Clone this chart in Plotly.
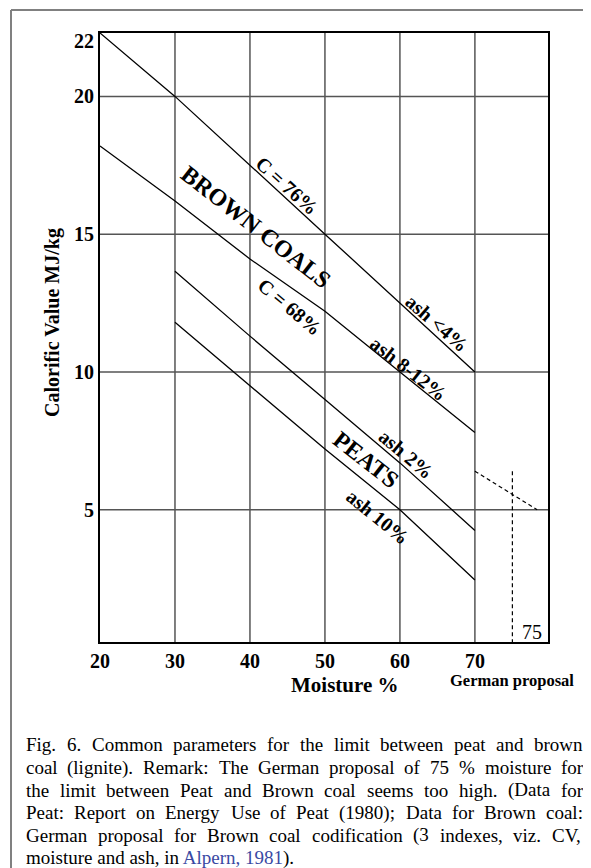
import plotly.graph_objects as go

# ---------------- data ----------------
moist_c76 = [20, 30, 50, 70]
cv_c76 = [22.3, 20.0, 15.0, 10.0]

moist_c68 = [20, 30, 40, 50, 60, 70]
cv_c68 = [18.2, 16.2, 14.1, 12.2, 10.0, 7.8]

moist_ash2 = [30, 40, 50, 60, 70]
cv_ash2 = [13.65, 11.3, 9.0, 6.7, 4.25]

moist_ash10 = [30, 40, 50, 60, 70]
cv_ash10 = [11.8, 9.5, 7.2, 5.0, 2.45]

moist_german_slope = [70, 78.3]
cv_german_slope = [6.4, 5.0]
moist_german_limit = [75, 75]
cv_german_limit = [6.4, 0.2]

x_ticks = [20, 30, 40, 50, 60, 70]
y_ticks = [5, 10, 15, 20, 22]
x_grid = [30, 40, 50, 60, 70]
y_grid = [5, 10, 15, 20]

labels = ["C = 76%", "BROWN COALS", "C = 68%", "ash &lt;4%", "ash 8-12%",
          "ash 2%", "PEATS", "ash 10%"]
label_moist = [45.0, 40.8, 45.35, 64.9, 61.2, 60.8, 55.5, 57.1]
label_cv = [16.75, 15.26, 12.37, 11.76, 10.1, 7.01, 6.8, 4.75]
label_angle = [42, 38, 40, 41, 38, 40, 38, 39]
label_size = [20, 24, 20, 20, 20, 20, 24, 20]

caption_lines = [
    "Fig. 6. Common parameters for the limit between peat and brown",
    "coal (lignite). Remark: The German proposal of 75 % moisture for",
    "the limit between Peat and Brown coal seems too high. (Data for",
    "Peat: Report on Energy Use of Peat (1980); Data for Brown coal:",
    "German proposal for Brown coal codification (3 indexes, viz. CV,",
]
caption_last = ("moisture and ash, in <span style='color:#3949a3'>Alpern, 1981</span>).")

# ---------------- layout geometry (page pixels; page body has an 8px margin) ----------------
OFF = 8
PAGE_W, PAGE_H = 591, 868
W, H = PAGE_W - OFF, PAGE_H - OFF
PL, PR, PT, PB = 100, 548, 33, 642          # plot area in page pixels
L, R, T, B = PL - OFF, PAGE_W - PR, PT - OFF, PAGE_H - PB
PW, PH = PR - PL, PB - PT


def px(x):
    return (x - PL) / PW


def py(y):
    return (PB - y) / PH


SERIF = "Liberation Serif, Times New Roman, serif"

fig = go.Figure()

line_style = dict(color="black", width=1.3)
for mx, cy in [(moist_c76, cv_c76), (moist_c68, cv_c68),
               (moist_ash2, cv_ash2), (moist_ash10, cv_ash10)]:
    fig.add_trace(go.Scatter(x=mx, y=cy, mode="lines", line=line_style,
                             hoverinfo="skip", showlegend=False))

dash_style = dict(color="black", width=1.2, dash="4px,3px")
fig.add_trace(go.Scatter(x=moist_german_slope, y=cv_german_slope, mode="lines",
                         line=dash_style, hoverinfo="skip", showlegend=False))
fig.add_trace(go.Scatter(x=moist_german_limit, y=cv_german_limit, mode="lines",
                         line=dash_style, hoverinfo="skip", showlegend=False))

shapes = []
for gx in x_grid:
    shapes.append(dict(type="line", xref="x", yref="paper", x0=gx, x1=gx, y0=0, y1=1,
                       line=dict(color="#555555", width=1.5), layer="below"))
for gy in y_grid:
    shapes.append(dict(type="line", xref="paper", yref="y", x0=0, x1=1, y0=gy, y1=gy,
                       line=dict(color="#555555", width=1.5), layer="below"))
# outer page frame (top and left)
shapes.append(dict(type="line", xref="paper", yref="paper", x0=px(11), x1=px(600),
                   y0=py(10), y1=py(10), line=dict(color="#808080", width=2)))
shapes.append(dict(type="line", xref="paper", yref="paper", x0=px(11), x1=px(11),
                   y0=py(10), y1=py(880), line=dict(color="#808080", width=2)))

annotations = []
for txt, mx, cy, ang, sz in zip(labels, label_moist, label_cv, label_angle, label_size):
    annotations.append(dict(x=mx, y=cy, xref="x", yref="y", text=f"<b>{txt}</b>",
                            textangle=ang, showarrow=False, xanchor="center", yanchor="middle",
                            font=dict(family=SERIF, size=sz, color="black")))

annotations.append(dict(x=77.6, y=0.55, xref="x", yref="y", text="75", showarrow=False,
                        xanchor="center", yanchor="middle",
                        font=dict(family=SERIF, size=20, color="black")))
annotations.append(dict(x=px(345), y=py(685), xref="paper", yref="paper",
                        text="<b>Moisture %</b>", showarrow=False,
                        xanchor="center", yanchor="middle",
                        font=dict(family=SERIF, size=21, color="black")))
annotations.append(dict(x=px(512), y=py(680), xref="paper", yref="paper",
                        text="<b>German proposal</b>", showarrow=False,
                        xanchor="center", yanchor="middle", borderpad=0,
                        font=dict(family=SERIF, size=16.5, color="black")))
annotations.append(dict(x=px(52), y=py(323), xref="paper", yref="paper",
                        text="<b>Calorific Value MJ/kg</b>", textangle=-90, showarrow=False,
                        xanchor="center", yanchor="middle",
                        font=dict(family=SERIF, size=20, color="black")))

# --- justified caption (Times metrics, 1/1000 em) ---
TW = {' ': 250, '!': 333, '(': 333, ')': 333, ',': 250, '-': 333, '.': 250, ':': 278,
      ';': 278, '%': 833, "'": 180}
for d in "0123456789":
    TW[d] = 500
TW.update(dict(A=722, B=667, C=667, D=722, E=611, F=556, G=722, H=722, I=333, J=389,
               K=722, L=611, M=889, N=722, O=722, P=556, Q=722, R=667, S=556, T=611,
               U=722, V=722, W=944, X=722, Y=722, Z=611))
TW.update(dict(a=444, b=500, c=444, d=500, e=444, f=333, g=500, h=500, i=278, j=278,
               k=500, l=278, m=778, n=500, o=500, p=500, q=500, r=333, s=389, t=278,
               u=500, v=500, w=722, x=500, y=500, z=444))


def text_w(s, size):
    return sum(TW.get(ch, 500) for ch in s) * size / 1000.0


CAP_SIZE = 19
CAP_LEFT, CAP_RIGHT = 25, 582
cap_y = [745, 767.5, 790, 812.5, 835, 857.5]
for i, line in enumerate(caption_lines):
    words = line.split()
    widths = [text_w(w, CAP_SIZE) for w in words]
    gap = (CAP_RIGHT - CAP_LEFT - sum(widths)) / (len(words) - 1)
    xpos = CAP_LEFT
    for w, wd in zip(words, widths):
        annotations.append(dict(x=px(xpos), y=py(cap_y[i]), xref="paper", yref="paper",
                                text=w, showarrow=False, xanchor="left", yanchor="middle",
                                borderpad=0,
                                font=dict(family=SERIF, size=CAP_SIZE, color="black")))
        xpos += wd + gap
annotations.append(dict(x=px(CAP_LEFT), y=py(cap_y[5]), xref="paper", yref="paper",
                        text=caption_last, showarrow=False, xanchor="left", yanchor="middle",
                        borderpad=0,
                        font=dict(family=SERIF, size=CAP_SIZE, color="black")))

fig.update_layout(
    width=W, height=H,
    margin=dict(l=L, r=R, t=T, b=B, pad=0),
    paper_bgcolor="white", plot_bgcolor="white",
    shapes=shapes, annotations=annotations,
    showlegend=False,
)
fig.update_xaxes(range=[20, 79.75], tickvals=x_ticks, ticktext=[str(v) for v in x_ticks],
                 showgrid=False, zeroline=False, showline=True, mirror=True,
                 linecolor="black", linewidth=2, ticks="", ticklabelstandoff=0,
                 tickfont=dict(family=SERIF, size=20, color="black", weight="bold"))
fig.update_yaxes(range=[0.2, 22.3], tickvals=y_ticks, ticktext=[str(v) for v in y_ticks],
                 showgrid=False, zeroline=False, showline=True, mirror=True,
                 linecolor="black", linewidth=2, ticks="", ticklabelstandoff=0,
                 tickfont=dict(family=SERIF, size=20, color="black", weight="bold"))

fig.write_html("out.html")
